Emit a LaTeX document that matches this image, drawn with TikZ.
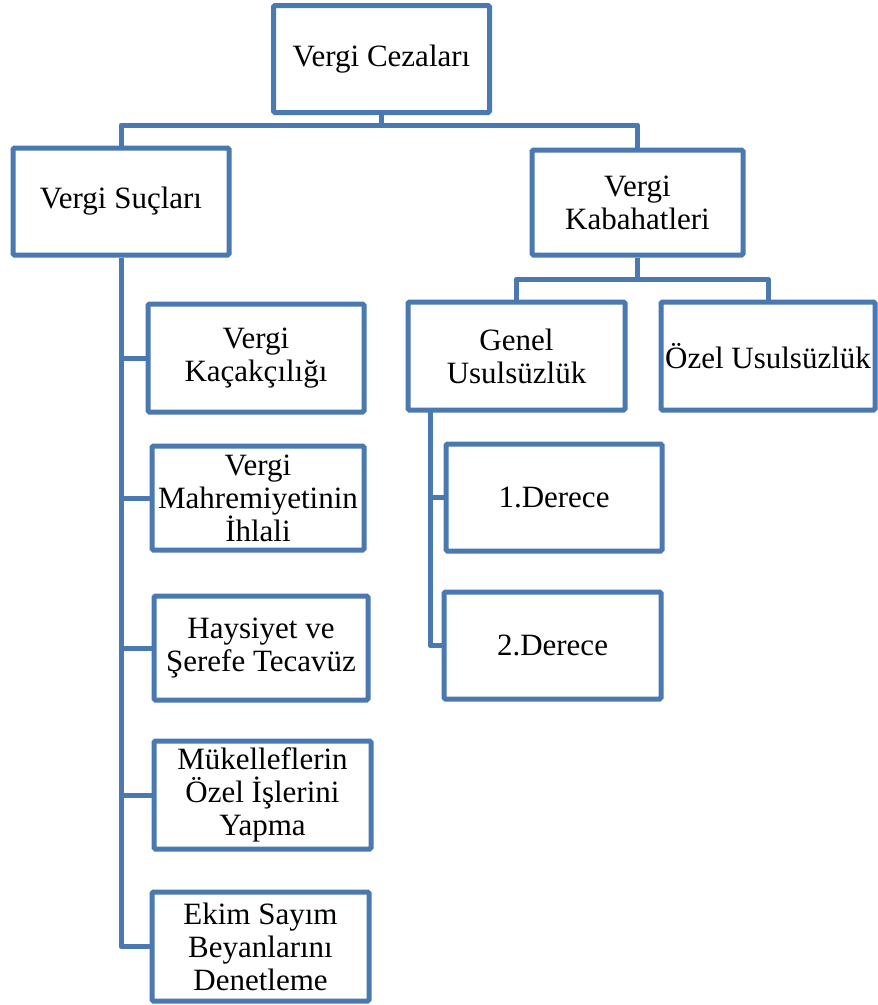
\documentclass[tikz,border=0pt]{standalone}
\usepackage{fontspec}
\setmainfont{Liberation Serif}
\definecolor{lineblue}{RGB}{74,120,176}
\begin{document}
\begin{tikzpicture}[x=1pt,y=1pt,
  box/.style={draw=lineblue,line width=5pt,rounded corners=1.5pt,fill=white,
    inner sep=0pt,align=center,font=\fontsize{31}{33}\selectfont},
  conn/.style={draw=lineblue,line width=5pt,line join=round}]
\useasboundingbox (0,0) rectangle (878,-1005);
% nodes
\node[box,minimum width=216,minimum height=107] (cez) at (381.5,-59) {Vergi Cezaları};
\node[box,minimum width=216,minimum height=107] (suc) at (121,-201.5) {Vergi Suçları};
\node[box,minimum width=211,minimum height=105] (kab) at (637.5,-202.5) {Vergi\\Kabahatleri};
\node[box,minimum width=217,minimum height=108] (gen) at (516.5,-356) {Genel\\Usulsüzlük};
\node[box,minimum width=214,minimum height=108] (oze) at (768,-356) {Özel Usulsüzlük};
\node[box,minimum width=216,minimum height=108] (kac) at (256,-358) {Vergi\\Kaçakçılığı};
\node[box,minimum width=212,minimum height=104] (mah) at (258,-498) {Vergi\\Mahremiyetinin\\İhlali};
\node[box,minimum width=214,minimum height=104] (hay) at (261,-648) {Haysiyet ve\\Şerefe Tecavüz};
\node[box,minimum width=217,minimum height=108] (muk) at (262.5,-795) {Mükelleflerin\\Özel İşlerini\\Yapma};
\node[box,minimum width=217,minimum height=109] (eki) at (260.5,-946.5) {Ekim Sayım\\Beyanlarını\\Denetleme};
\node[box,minimum width=216,minimum height=107] (d1) at (554,-497.5) {1.Derece};
\node[box,minimum width=217,minimum height=107] (d2) at (552.5,-645.5) {2.Derece};
% hubs
\coordinate (h1) at (381.5,-125);
\coordinate (h2) at (637.5,-279);
\coordinate (gv) at (430,-410);
% connectors
\begin{scope}[on background layer/.style={}]
\draw[conn] (cez.south) -- (h1);
\draw[conn] (suc.north) |- (h1) -| (kab.north);
\draw[conn] (kab.south) -- (h2);
\draw[conn] (gen.north) |- (h2) -| (oze.north);
\draw[conn] (suc.south) |- (eki.west);
\draw[conn] (suc.south |- kac.west) -- (kac.west);
\draw[conn] (suc.south |- mah.west) -- (mah.west);
\draw[conn] (suc.south |- hay.west) -- (hay.west);
\draw[conn] (suc.south |- muk.west) -- (muk.west);
\draw[conn] (gv) |- (d2.west);
\draw[conn] (gv |- d1.west) -- (d1.west);
\end{scope}
\end{tikzpicture}
\end{document}
